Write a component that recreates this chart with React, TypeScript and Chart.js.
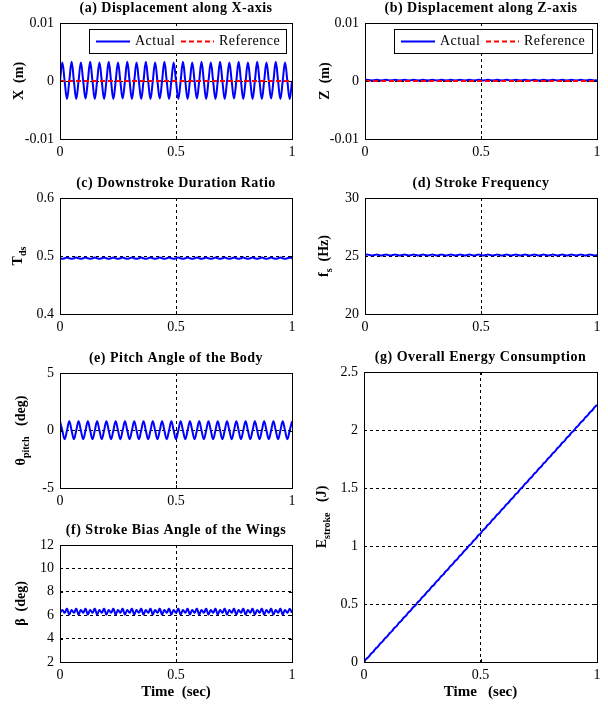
import React, { useEffect, useRef } from 'react';
import { Chart, registerables } from 'chart.js';
Chart.register(...registerables);

// ---------- data ----------
const T = [
  0, 0.01, 0.02, 0.03, 0.04, 0.05, 0.06, 0.07, 0.08, 0.09,
  0.1, 0.11, 0.12, 0.13, 0.14, 0.15, 0.16, 0.17, 0.18, 0.19,
  0.2, 0.21, 0.22, 0.23, 0.24, 0.25, 0.26, 0.27, 0.28, 0.29,
  0.3, 0.31, 0.32, 0.33, 0.34, 0.35, 0.36, 0.37, 0.38, 0.39,
  0.4, 0.41, 0.42, 0.43, 0.44, 0.45, 0.46, 0.47, 0.48, 0.49,
  0.5, 0.51, 0.52, 0.53, 0.54, 0.55, 0.56, 0.57, 0.58, 0.59,
  0.6, 0.61, 0.62, 0.63, 0.64, 0.65, 0.66, 0.67, 0.68, 0.69,
  0.7, 0.71, 0.72, 0.73, 0.74, 0.75, 0.76, 0.77, 0.78, 0.79,
  0.8, 0.81, 0.82, 0.83, 0.84, 0.85, 0.86, 0.87, 0.88, 0.89,
  0.9, 0.91, 0.92, 0.93, 0.94, 0.95, 0.96, 0.97, 0.98, 0.99,
  1,
];

const X_ACTUAL = [
  0,
  0.0032, 0, -0.0031, 0, 0.0033, 0, -0.0031, 0, 0.0032, 0, -0.0030, 0, 0.0033, 0, -0.0031, 0,
  0.0032, 0, -0.0031, 0, 0.0033, 0, -0.0031, 0, 0.0032, 0, -0.0030, 0, 0.0033, 0, -0.0031, 0,
  0.0032, 0, -0.0031, 0, 0.0033, 0, -0.0031, 0, 0.0032, 0, -0.0030, 0, 0.0033, 0, -0.0031, 0,
  0.0032, 0, -0.0031, 0, 0.0033, 0, -0.0031, 0, 0.0032, 0, -0.0030, 0, 0.0033, 0, -0.0031, 0,
  0.0032, 0, -0.0031, 0, 0.0033, 0, -0.0031, 0, 0.0032, 0, -0.0030, 0, 0.0033, 0, -0.0031, 0,
  0.0032, 0, -0.0031, 0, 0.0033, 0, -0.0031, 0, 0.0032, 0, -0.0030, 0, 0.0033, 0, -0.0031, 0,
  0.0032, 0, -0.0031, 0,
];

const REF_T = [0, 1];
const X_REF = [0, 0];
const Z_REF = [0, 0];

const Z_ACTUAL = [
  0.00015,
  0.0002, 0.00015, 0.0001, 0.00015, 0.0002, 0.00015, 0.0001, 0.00015, 0.0002, 0.00015, 0.0001, 0.00015, 0.0002, 0.00015, 0.0001, 0.00015,
  0.0002, 0.00015, 0.0001, 0.00015, 0.0002, 0.00015, 0.0001, 0.00015, 0.0002, 0.00015, 0.0001, 0.00015, 0.0002, 0.00015, 0.0001, 0.00015,
  0.0002, 0.00015, 0.0001, 0.00015, 0.0002, 0.00015, 0.0001, 0.00015, 0.0002, 0.00015, 0.0001, 0.00015, 0.0002, 0.00015, 0.0001, 0.00015,
  0.0002, 0.00015, 0.0001, 0.00015, 0.0002, 0.00015, 0.0001, 0.00015, 0.0002, 0.00015, 0.0001, 0.00015, 0.0002, 0.00015, 0.0001, 0.00015,
  0.0002, 0.00015, 0.0001, 0.00015, 0.0002, 0.00015, 0.0001, 0.00015, 0.0002, 0.00015, 0.0001, 0.00015, 0.0002, 0.00015, 0.0001, 0.00015,
  0.0002, 0.00015, 0.0001, 0.00015, 0.0002, 0.00015, 0.0001, 0.00015, 0.0002, 0.00015, 0.0001, 0.00015, 0.0002, 0.00015, 0.0001, 0.00015,
  0.0002, 0.00015, 0.0001, 0.00015,
];

const T_DS = [
  0.4962,
  0.4952, 0.4962, 0.4972, 0.4962, 0.4952, 0.4962, 0.4972, 0.4962, 0.4952, 0.4962, 0.4972, 0.4962, 0.4952, 0.4962, 0.4972, 0.4962,
  0.4952, 0.4962, 0.4972, 0.4962, 0.4952, 0.4962, 0.4972, 0.4962, 0.4952, 0.4962, 0.4972, 0.4962, 0.4952, 0.4962, 0.4972, 0.4962,
  0.4952, 0.4962, 0.4972, 0.4962, 0.4952, 0.4962, 0.4972, 0.4962, 0.4952, 0.4962, 0.4972, 0.4962, 0.4952, 0.4962, 0.4972, 0.4962,
  0.4952, 0.4962, 0.4972, 0.4962, 0.4952, 0.4962, 0.4972, 0.4962, 0.4952, 0.4962, 0.4972, 0.4962, 0.4952, 0.4962, 0.4972, 0.4962,
  0.4952, 0.4962, 0.4972, 0.4962, 0.4952, 0.4962, 0.4972, 0.4962, 0.4952, 0.4962, 0.4972, 0.4962, 0.4952, 0.4962, 0.4972, 0.4962,
  0.4952, 0.4962, 0.4972, 0.4962, 0.4952, 0.4962, 0.4972, 0.4962, 0.4952, 0.4962, 0.4972, 0.4962, 0.4952, 0.4962, 0.4972, 0.4962,
  0.4952, 0.4962, 0.4972, 0.4962,
];

const F_S = [
  25.08,
  25.12, 25.08, 25.04, 25.08, 25.12, 25.08, 25.04, 25.08, 25.12, 25.08, 25.04, 25.08, 25.12, 25.08, 25.04, 25.08,
  25.12, 25.08, 25.04, 25.08, 25.12, 25.08, 25.04, 25.08, 25.12, 25.08, 25.04, 25.08, 25.12, 25.08, 25.04, 25.08,
  25.12, 25.08, 25.04, 25.08, 25.12, 25.08, 25.04, 25.08, 25.12, 25.08, 25.04, 25.08, 25.12, 25.08, 25.04, 25.08,
  25.12, 25.08, 25.04, 25.08, 25.12, 25.08, 25.04, 25.08, 25.12, 25.08, 25.04, 25.08, 25.12, 25.08, 25.04, 25.08,
  25.12, 25.08, 25.04, 25.08, 25.12, 25.08, 25.04, 25.08, 25.12, 25.08, 25.04, 25.08, 25.12, 25.08, 25.04, 25.08,
  25.12, 25.08, 25.04, 25.08, 25.12, 25.08, 25.04, 25.08, 25.12, 25.08, 25.04, 25.08, 25.12, 25.08, 25.04, 25.08,
  25.12, 25.08, 25.04, 25.08,
];

const THETA_PITCH = [
  0.8,
  0, -0.75, 0, 0.8, 0, -0.75, 0, 0.8, 0, -0.75, 0, 0.8, 0, -0.75, 0, 0.8,
  0, -0.75, 0, 0.8, 0, -0.75, 0, 0.8, 0, -0.75, 0, 0.8, 0, -0.75, 0, 0.8,
  0, -0.75, 0, 0.8, 0, -0.75, 0, 0.8, 0, -0.75, 0, 0.8, 0, -0.75, 0, 0.8,
  0, -0.75, 0, 0.8, 0, -0.75, 0, 0.8, 0, -0.75, 0, 0.8, 0, -0.75, 0, 0.8,
  0, -0.75, 0, 0.8, 0, -0.75, 0, 0.8, 0, -0.75, 0, 0.8, 0, -0.75, 0, 0.8,
  0, -0.75, 0, 0.8, 0, -0.75, 0, 0.8, 0, -0.75, 0, 0.8, 0, -0.75, 0, 0.8,
  0, -0.75, 0, 0.8,
];

const BETA = [
  6.2,
  6.45, 6.2, 6.55, 6.05, 6.45, 6.2, 6.55, 6.05, 6.45, 6.2, 6.55, 6.05, 6.45, 6.2, 6.55, 6.05,
  6.45, 6.2, 6.55, 6.05, 6.45, 6.2, 6.55, 6.05, 6.45, 6.2, 6.55, 6.05, 6.45, 6.2, 6.55, 6.05,
  6.45, 6.2, 6.55, 6.05, 6.45, 6.2, 6.55, 6.05, 6.45, 6.2, 6.55, 6.05, 6.45, 6.2, 6.55, 6.05,
  6.45, 6.2, 6.55, 6.05, 6.45, 6.2, 6.55, 6.05, 6.45, 6.2, 6.55, 6.05, 6.45, 6.2, 6.55, 6.05,
  6.45, 6.2, 6.55, 6.05, 6.45, 6.2, 6.55, 6.05, 6.45, 6.2, 6.55, 6.05, 6.45, 6.2, 6.55, 6.05,
  6.45, 6.2, 6.55, 6.05, 6.45, 6.2, 6.55, 6.05, 6.45, 6.2, 6.55, 6.05, 6.45, 6.2, 6.55, 6.05,
  6.45, 6.2, 6.55, 6.2,
];

const E_STROKE = [
  0, 0.027, 0.044, 0.071,
  0.0886, 0.1156, 0.1326, 0.1596,
  0.1772, 0.2042, 0.2212, 0.2482,
  0.2658, 0.2928, 0.3098, 0.3368,
  0.3544, 0.3814, 0.3984, 0.4254,
  0.443, 0.47, 0.487, 0.514,
  0.5316, 0.5586, 0.5756, 0.6026,
  0.6202, 0.6472, 0.6642, 0.6912,
  0.7088, 0.7358, 0.7528, 0.7798,
  0.7974, 0.8244, 0.8414, 0.8684,
  0.886, 0.913, 0.93, 0.957,
  0.9746, 1.0016, 1.0186, 1.0456,
  1.0632, 1.0902, 1.1072, 1.1342,
  1.1518, 1.1788, 1.1958, 1.2228,
  1.2404, 1.2674, 1.2844, 1.3114,
  1.329, 1.356, 1.373, 1.4,
  1.4176, 1.4446, 1.4616, 1.4886,
  1.5062, 1.5332, 1.5502, 1.5772,
  1.5948, 1.6218, 1.6388, 1.6658,
  1.6834, 1.7104, 1.7274, 1.7544,
  1.772, 1.799, 1.816, 1.843,
  1.8606, 1.8876, 1.9046, 1.9316,
  1.9492, 1.9762, 1.9932, 2.0202,
  2.0378, 2.0648, 2.0818, 2.1088,
  2.1264, 2.1534, 2.1704, 2.1974,
  2.215,
];

const TIME_TICKS = [0, 0.5, 1];
const XZ_TICKS = [-0.01, 0, 0.01];
const TDS_TICKS = [0.4, 0.5, 0.6];
const FS_TICKS = [20, 25, 30];
const PITCH_TICKS = [-5, 0, 5];
const BETA_TICKS = [2, 4, 6, 8, 10, 12];
const ENERGY_TICKS = [0, 0.5, 1, 1.5, 2, 2.5];

const LEGEND_LABELS = ['Actual', 'Reference'];
const X_AXIS_TITLE = 'Time  (sec)';
const X_AXIS_TITLE_G = 'Time   (sec)';

// ---------- layout ----------
const W = 608;
const H = 706;
const FONT = '"Liberation Serif", "Times New Roman", serif';

type Part = { t: string; sub?: boolean };
type Series = { x: number[]; y: number[]; kind: 'actual' | 'ref' };
type Spec = {
  rect: { l: number; t: number; r: number; b: number };
  title: string;
  yLabel: Part[];
  yLabelX: number;
  yTicks: number[];
  series: Series[];
  xLabel?: string;
  legend?: { x: number; y: number; w: number; h: number };
};

const SPECS: Spec[] = [
  {
    rect: { l: 60, t: 23, r: 292, b: 139 },
    title: '(a) Displacement along X-axis',
    yLabel: [{ t: 'X  (m)' }],
    yLabelX: 19,
    yTicks: XZ_TICKS,
    series: [
      { x: T, y: X_ACTUAL, kind: 'actual' },
      { x: REF_T, y: X_REF, kind: 'ref' },
    ],
    legend: { x: 89, y: 29, w: 197, h: 24 },
  },
  {
    rect: { l: 365, t: 23, r: 597, b: 139 },
    title: '(b) Displacement along Z-axis',
    yLabel: [{ t: 'Z  (m)' }],
    yLabelX: 325,
    yTicks: XZ_TICKS,
    series: [
      { x: T, y: Z_ACTUAL, kind: 'actual' },
      { x: REF_T, y: Z_REF, kind: 'ref' },
    ],
    legend: { x: 394, y: 29, w: 198, h: 24 },
  },
  {
    rect: { l: 60, t: 198, r: 292, b: 314 },
    title: '(c) Downstroke Duration Ratio',
    yLabel: [{ t: 'T' }, { t: 'ds', sub: true }],
    yLabelX: 18,
    yTicks: TDS_TICKS,
    series: [{ x: T, y: T_DS, kind: 'actual' }],
  },
  {
    rect: { l: 365, t: 198, r: 597, b: 314 },
    title: '(d) Stroke Frequency',
    yLabel: [{ t: 'f' }, { t: 's', sub: true }, { t: '  (Hz)' }],
    yLabelX: 324,
    yTicks: FS_TICKS,
    series: [{ x: T, y: F_S, kind: 'actual' }],
  },
  {
    rect: { l: 60, t: 373, r: 292, b: 488 },
    title: '(e) Pitch Angle of the Body',
    yLabel: [{ t: 'θ' }, { t: 'pitch', sub: true }, { t: '   (deg)' }],
    yLabelX: 21,
    yTicks: PITCH_TICKS,
    series: [{ x: T, y: THETA_PITCH, kind: 'actual' }],
  },
  {
    rect: { l: 60, t: 545, r: 292, b: 662 },
    title: '(f) Stroke Bias Angle of the Wings',
    yLabel: [{ t: 'β  (deg)' }],
    yLabelX: 21,
    yTicks: BETA_TICKS,
    series: [{ x: T, y: BETA, kind: 'actual' }],
    xLabel: X_AXIS_TITLE,
  },
  {
    rect: { l: 364, t: 372, r: 597, b: 662 },
    title: '(g) Overall Energy Consumption',
    yLabel: [{ t: 'E' }, { t: 'stroke', sub: true }, { t: '   (J)' }],
    yLabelX: 322,
    yTicks: ENERGY_TICKS,
    series: [{ x: T, y: E_STROKE, kind: 'actual' }],
    xLabel: X_AXIS_TITLE_G,
  },
];

function drawRotated(ctx: CanvasRenderingContext2D, parts: Part[], cx: number, cy: number, size: number) {
  ctx.save();
  ctx.translate(cx, cy);
  ctx.rotate(-Math.PI / 2);
  const main = `bold ${size}px ${FONT}`;
  const sub = `bold ${Math.round(size * 0.72)}px ${FONT}`;
  let total = 0;
  const widths = parts.map((p) => {
    ctx.font = p.sub ? sub : main;
    const w = ctx.measureText(p.t).width;
    total += w;
    return w;
  });
  let x = -total / 2;
  ctx.textBaseline = 'middle';
  ctx.textAlign = 'left';
  ctx.fillStyle = '#000';
  parts.forEach((p, i) => {
    ctx.font = p.sub ? sub : main;
    ctx.fillText(p.t, x, p.sub ? size * 0.4 : 0);
    x += widths[i];
  });
  ctx.restore();
}

function Panel({ spec }: { spec: Spec }) {
  const ref = useRef<HTMLCanvasElement>(null);
  useEffect(() => {
    const canvas = ref.current;
    if (!canvas) return;
    const { rect } = spec;
    const datasets = spec.series.map((s) => ({
      label: s.kind === 'actual' ? LEGEND_LABELS[0] : LEGEND_LABELS[1],
      data: s.x.map((x, i) => ({ x, y: s.y[i] })),
      borderColor: s.kind === 'actual' ? '#0000ff' : '#ff0000',
      borderWidth: 2,
      borderDash: s.kind === 'ref' ? [5, 3] : [],
      pointRadius: 0,
      tension: s.kind === 'actual' ? 0.4 : 0,
      fill: false,
      order: s.kind === 'ref' ? 0 : 1,
    }));

    const yTicks = spec.yTicks;
    const overlay = {
      id: 'overlay',
      afterDraw(chart: any) {
        const ctx: CanvasRenderingContext2D = chart.ctx;
        const a = chart.chartArea;
        const xs = chart.scales.x;
        const ys = chart.scales.y;
        ctx.save();
        // inner tick marks
        ctx.strokeStyle = '#000';
        ctx.lineWidth = 1;
        ctx.setLineDash([]);
        ctx.beginPath();
        TIME_TICKS.forEach((v) => {
          const px = Math.round(xs.getPixelForValue(v)) + 0.5;
          ctx.moveTo(px, a.bottom);
          ctx.lineTo(px, a.bottom - 3);
          ctx.moveTo(px, a.top);
          ctx.lineTo(px, a.top + 3);
        });
        yTicks.forEach((v) => {
          const py = Math.round(ys.getPixelForValue(v)) + 0.5;
          ctx.moveTo(a.left, py);
          ctx.lineTo(a.left + 3, py);
          ctx.moveTo(a.right, py);
          ctx.lineTo(a.right - 3, py);
        });
        ctx.stroke();
        // frame
        ctx.strokeRect(Math.round(a.left) + 0.5, Math.round(a.top) + 0.5, Math.round(a.right - a.left), Math.round(a.bottom - a.top));
        // title
        ctx.fillStyle = '#000';
        ctx.font = `bold 14px ${FONT}`;
        (ctx as any).letterSpacing = '0.5px';
        ctx.textAlign = 'center';
        ctx.textBaseline = 'middle';
        ctx.fillText(spec.title, (a.left + a.right) / 2, a.top - 15);
        // x label
        if (spec.xLabel) {
          ctx.font = `bold 15px ${FONT}`;
          (ctx as any).letterSpacing = '0px';
          ctx.fillText(spec.xLabel, (a.left + a.right) / 2, a.bottom + 30);
        }
        (ctx as any).letterSpacing = '0px';
        // legend
        if (spec.legend) {
          const L = spec.legend;
          ctx.fillStyle = '#fff';
          ctx.fillRect(L.x, L.y, L.w, L.h);
          ctx.strokeStyle = '#000';
          ctx.lineWidth = 1;
          ctx.strokeRect(L.x + 0.5, L.y + 0.5, L.w, L.h);
          const cy = L.y + L.h / 2 + 0.5;
          ctx.lineWidth = 2;
          ctx.strokeStyle = '#0000ff';
          ctx.beginPath();
          ctx.moveTo(L.x + 7, cy);
          ctx.lineTo(L.x + 41, cy);
          ctx.stroke();
          ctx.strokeStyle = '#ff0000';
          ctx.setLineDash([5, 3]);
          ctx.beginPath();
          ctx.moveTo(L.x + 92, cy);
          ctx.lineTo(L.x + 125, cy);
          ctx.stroke();
          ctx.setLineDash([]);
          ctx.fillStyle = '#000';
          ctx.font = `14px ${FONT}`;
          (ctx as any).letterSpacing = '0.5px';
          ctx.textAlign = 'left';
          ctx.textBaseline = 'middle';
          ctx.fillText(LEGEND_LABELS[0], L.x + 46, cy);
          ctx.fillText(LEGEND_LABELS[1], L.x + 130, cy);
          (ctx as any).letterSpacing = '0px';
        }
        ctx.restore();
        drawRotated(ctx, spec.yLabel, spec.yLabelX, (a.top + a.bottom) / 2, 14);
      },
    };

    const chart = new Chart(canvas, {
      type: 'line',
      data: { datasets: datasets as any },
      options: {
        responsive: false,
        animation: false,
        devicePixelRatio: 1,
        layout: {
          padding: { left: rect.l - 50, top: rect.t, right: W - rect.r, bottom: H - rect.b - 30 },
        },
        plugins: { legend: { display: false }, tooltip: { enabled: false }, title: { display: false } },
        scales: {
          x: {
            type: 'linear',
            min: TIME_TICKS[0],
            max: TIME_TICKS[TIME_TICKS.length - 1],
            afterFit: (s: any) => { s.height = 30; },
            afterBuildTicks: (s: any) => { s.ticks = TIME_TICKS.map((v) => ({ value: v })); },
            ticks: {
              autoSkip: false,
              maxRotation: 0,
              padding: 5,
              color: '#000',
              font: { family: FONT, size: 14 },
              callback: (v: any) => String(v),
            },
            grid: { color: '#000', lineWidth: 1, drawTicks: false },
            border: { display: false, dash: [3, 3] },
          },
          y: {
            type: 'linear',
            min: yTicks[0],
            max: yTicks[yTicks.length - 1],
            afterFit: (s: any) => { s.width = 50; },
            afterBuildTicks: (s: any) => { s.ticks = yTicks.map((v) => ({ value: v })); },
            ticks: {
              autoSkip: false,
              padding: 6,
              color: '#000',
              font: { family: FONT, size: 14 },
              callback: (v: any) => String(v),
            },
            grid: { color: '#000', lineWidth: 1, drawTicks: false },
            border: { display: false, dash: [3, 3] },
          },
        },
      },
      plugins: [overlay],
    });
    return () => chart.destroy();
  }, [spec]);
  return <canvas ref={ref} width={W} height={H} style={{ position: 'absolute', left: 0, top: 0 }} />;
}

export default function App() {
  return (
    <div style={{ position: 'absolute', left: 0, top: 0, width: W, height: H, background: '#fff', overflow: 'hidden' }}>
      {SPECS.map((s, i) => (
        <Panel key={i} spec={s} />
      ))}
    </div>
  );
}
